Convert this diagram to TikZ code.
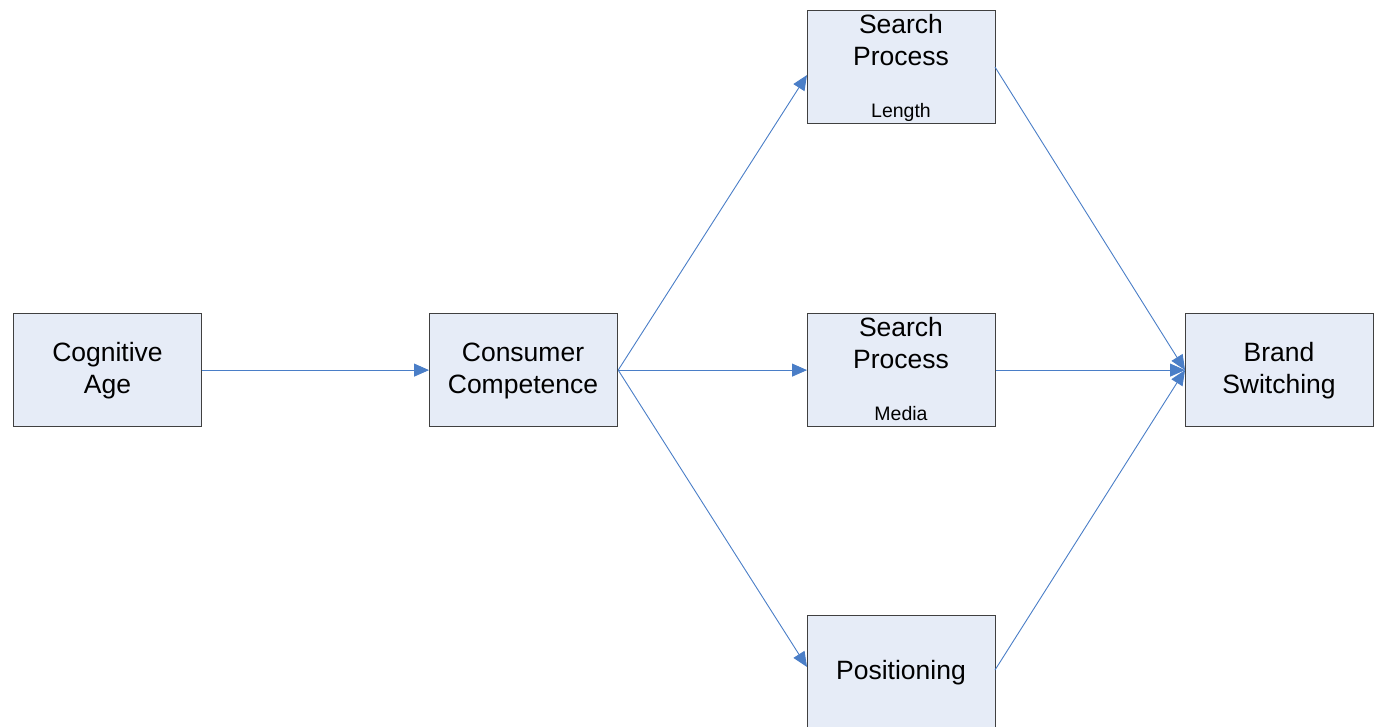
\documentclass[tikz,border=0pt]{standalone}
\usepackage{fontspec}
\setmainfont{Liberation Sans}
\usetikzlibrary{arrows.meta}
\definecolor{boxfill}{HTML}{E6ECF7}
\definecolor{boxdraw}{HTML}{404040}
\definecolor{linkblue}{HTML}{4A7EC7}
\begin{document}
\begin{tikzpicture}[x=1pt,y=-1pt,
  box/.style={draw=boxdraw,fill=boxfill,line width=1.2pt,minimum width=188pt,minimum height=113pt,inner sep=0pt,anchor=north west},
  link/.style={draw=linkblue,line width=0.9pt,-{Triangle[length=15pt,width=13pt]}},
  big/.style={font=\fontsize{26.5}{32}\selectfont,align=center,inner sep=0pt},
  small/.style={font=\fontsize{19.5}{22}\selectfont,inner sep=0pt}]
\useasboundingbox (0,0) rectangle (1374,726);
\clip (0,0) rectangle (1374,726);
\node[box] (cog) at (13,313) {};
\node[box] (comp) at (429,313) {};
\node[box] (len) at (807,10) {};
\node[box] (med) at (807,313) {};
\node[box] (pos) at (807,615) {};
\node[box] (bs) at (1185,313) {};
\node[big] (cogt) at (107.5,371) {Cognitive\\Age};
\node[big] (compt) at (523,371) {Consumer\\Competence};
\node[big] (lent) at (901,40) {Search\\Process};
\node[small] (lens) at (901,112) {Length};
\node[big] (medt) at (901,343) {Search\\Process};
\node[small] (meds) at (901,414) {Media};
\node[big] (post) at (901,673) {Positioning};
\node[big] (bst) at (1279,371) {Brand\\Switching};
\coordinate (lenin) at (807,75);
\coordinate (lenout) at (995,67);
\coordinate (posin) at (807,667);
\coordinate (posout) at (995,670);
\draw[link] (cog.east) -- (comp.west);
\draw[link] (comp.east) -- (lenin);
\draw[link] (comp.east) -- (med.west);
\draw[link] (comp.east) -- (posin);
\draw[link] (lenout) -- (bs.west);
\draw[link] (med.east) -- (bs.west);
\draw[link] (posout) -- (bs.west);
\end{tikzpicture}
\end{document}
